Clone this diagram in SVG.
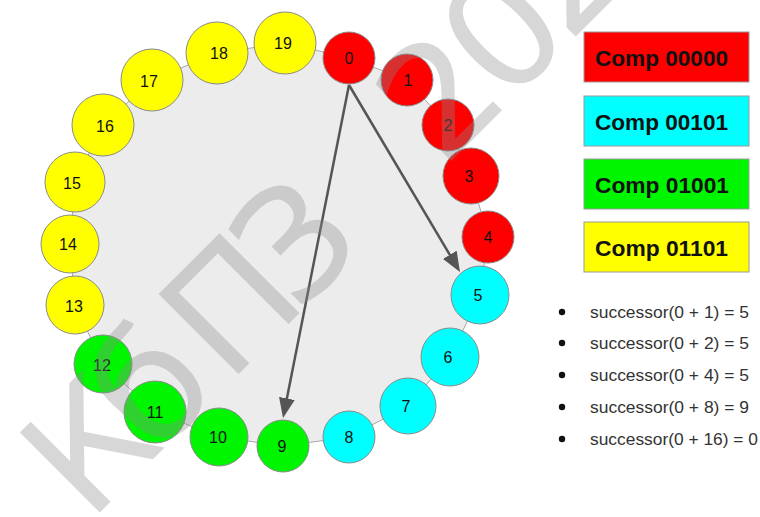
<svg xmlns="http://www.w3.org/2000/svg" width="760" height="517" viewBox="0 0 760 517">
<style>
.node circle{stroke:#8a8a8a;stroke-width:1}
.node text{font-family:"Liberation Sans",Arial,sans-serif;font-size:16px;fill:#111;text-anchor:middle}
.red{fill:#ff0000}.cyan{fill:#00ffff}.green{fill:#00f500}.yellow{fill:#ffff00}
.legend rect{stroke:#9a9a9a;stroke-width:1}
.legend text{font-family:"Liberation Sans",Arial,sans-serif;font-size:22px;font-weight:bold;fill:#111}
.conn line{stroke:#555;stroke-width:2.5;fill:none}
.list text{font-family:"Liberation Sans",Arial,sans-serif;font-size:17px;fill:#333}
.list circle{fill:#111}
.wm{font-family:"DejaVu Sans",sans-serif;font-size:155px;fill:#8c8c8c;opacity:0.34}
</style>
<defs>
<marker id="ah" markerUnits="userSpaceOnUse" markerWidth="20" markerHeight="16" refX="16" refY="8" orient="auto">
<path d="M0,0 L20,8 L0,16 z" fill="#555"/>
</marker>
</defs>
<rect width="760" height="517" fill="#fff"/>
<g id="ring">
<polygon points="349,58 407,80 448,125 471,176 488,237 480,295 450,357 408,406 349,437 283,446 219,437 155,412 103,364 75,305 70,244 75,182 103,125 152,80 217,53 285,43" fill="#ececec" stroke="#a8a8a8" stroke-width="1"/>
</g>
<g id="connectors" class="conn">
<line x1="349" y1="85" x2="283.8" y2="414.1" marker-end="url(#ah)"/>
<line x1="349" y1="85" x2="457.96" y2="268.56" marker-end="url(#ah)"/>
</g>
<g id="n0" class="node"><circle class="red" cx="349" cy="58" r="26"/><text x="349" y="63.5">0</text></g>
<g id="n1" class="node"><circle class="red" cx="407" cy="80" r="26"/><text x="408" y="85.5">1</text></g>
<g id="n2" class="node"><circle class="red" cx="448" cy="125" r="26"/><text x="448" y="130.5">2</text></g>
<g id="n3" class="node"><circle class="red" cx="471" cy="176" r="28"/><text x="469" y="182">3</text></g>
<g id="n4" class="node"><circle class="red" cx="488" cy="237" r="26"/><text x="488" y="242.5">4</text></g>
<g id="n5" class="node"><circle class="cyan" cx="480" cy="295" r="29"/><text x="478" y="300.5">5</text></g>
<g id="n6" class="node"><circle class="cyan" cx="450" cy="357" r="29"/><text x="448" y="362.5">6</text></g>
<g id="n7" class="node"><circle class="cyan" cx="408" cy="406" r="28"/><text x="406" y="411.5">7</text></g>
<g id="n8" class="node"><circle class="cyan" cx="349" cy="437" r="26"/><text x="349" y="442.5">8</text></g>
<g id="n9" class="node"><circle class="green" cx="283" cy="446" r="26"/><text x="282" y="451.5">9</text></g>
<g id="n10" class="node"><circle class="green" cx="219" cy="437" r="29"/><text x="218" y="442.5">10</text></g>
<g id="n11" class="node"><circle class="green" cx="155" cy="412" r="31"/><text x="155" y="417.5">11</text></g>
<g id="n12" class="node"><circle class="green" cx="103" cy="364" r="29"/><text x="102" y="370.5">12</text></g>
<g id="n13" class="node"><circle class="yellow" cx="75" cy="305" r="29"/><text x="74" y="311.5">13</text></g>
<g id="n14" class="node"><circle class="yellow" cx="70" cy="244" r="29"/><text x="68" y="249.5">14</text></g>
<g id="n15" class="node"><circle class="yellow" cx="75" cy="182" r="30"/><text x="72" y="188.5">15</text></g>
<g id="n16" class="node"><circle class="yellow" cx="103" cy="125" r="31"/><text x="105" y="131.5">16</text></g>
<g id="n17" class="node"><circle class="yellow" cx="152" cy="80" r="31"/><text x="149" y="86.5">17</text></g>
<g id="n18" class="node"><circle class="yellow" cx="217" cy="53" r="31"/><text x="219" y="58.5">18</text></g>
<g id="n19" class="node"><circle class="yellow" cx="285" cy="43" r="31"/><text x="283" y="48.5">19</text></g>
<g id="legend" class="legend">
<g id="leg1"><rect class="red" x="584" y="32" width="165" height="50"/><text x="595" y="66" textLength="133" lengthAdjust="spacingAndGlyphs">Comp 00000</text></g>
<g id="leg2"><rect class="cyan" x="584" y="96" width="165" height="50"/><text x="595" y="130" textLength="133" lengthAdjust="spacingAndGlyphs">Comp 00101</text></g>
<g id="leg3"><rect class="green" x="584" y="159" width="165" height="50"/><text x="595" y="193" textLength="134" lengthAdjust="spacingAndGlyphs">Comp 01001</text></g>
<g id="leg4"><rect class="yellow" x="584" y="222" width="165" height="50"/><text x="595" y="256" textLength="133" lengthAdjust="spacingAndGlyphs">Comp 01101</text></g>
</g>
<g id="list" class="list">
<circle cx="562" cy="312" r="3.2"/><text x="590" y="318" textLength="159" lengthAdjust="spacingAndGlyphs">successor(0 + 1) = 5</text>
<circle cx="562" cy="343" r="3.2"/><text x="590" y="349" textLength="159" lengthAdjust="spacingAndGlyphs">successor(0 + 2) = 5</text>
<circle cx="562" cy="375" r="3.2"/><text x="590" y="381" textLength="159" lengthAdjust="spacingAndGlyphs">successor(0 + 4) = 5</text>
<circle cx="562" cy="407" r="3.2"/><text x="590" y="413" textLength="159" lengthAdjust="spacingAndGlyphs">successor(0 + 8) = 9</text>
<circle cx="562" cy="439" r="3.2"/><text x="590" y="445" textLength="168" lengthAdjust="spacingAndGlyphs">successor(0 + 16) = 0</text>
</g>
<text class="wm" transform="rotate(-45)" x="-307 -215 -111 -12 120 194 283 370" y="433">КбПЗ 202</text>
</svg>
